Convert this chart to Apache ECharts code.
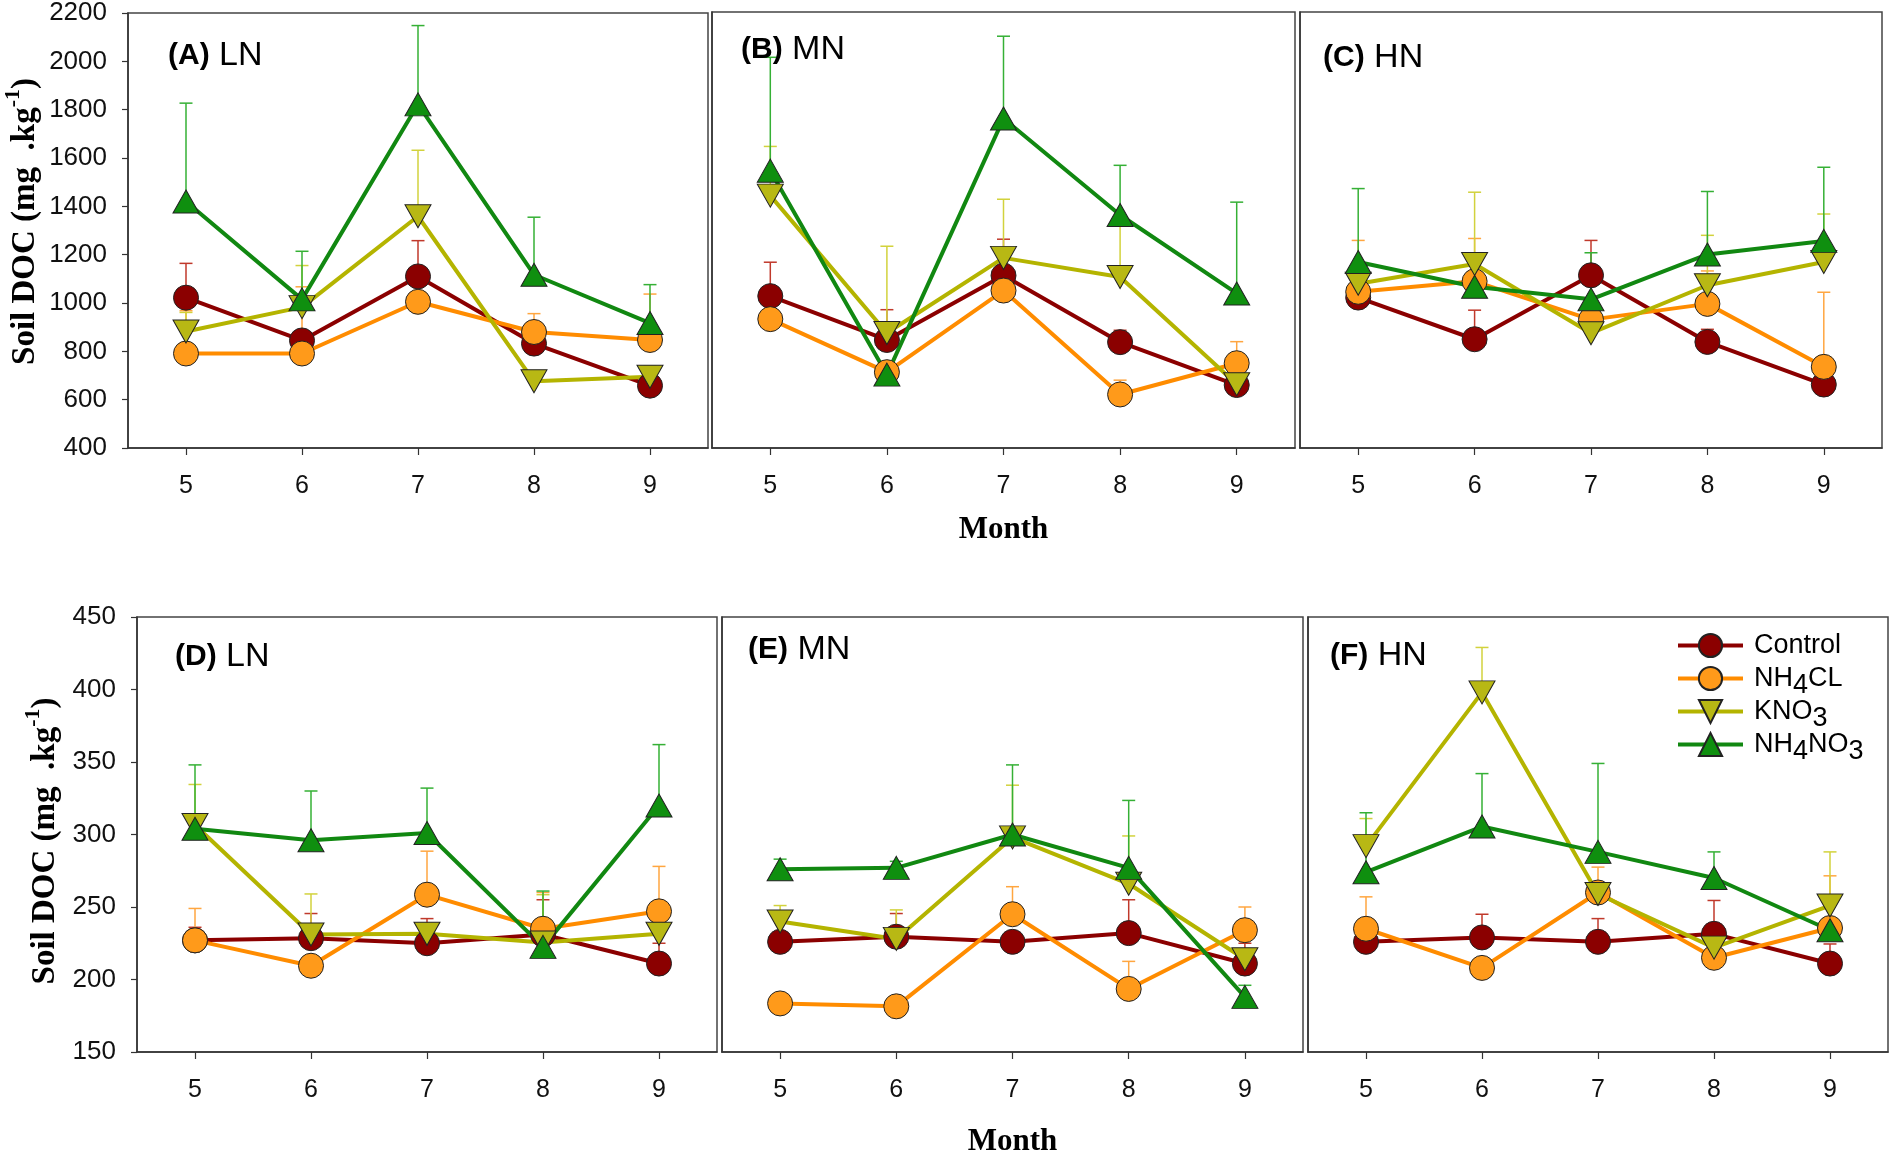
<!DOCTYPE html>
<html>
<head>
<meta charset="utf-8">
<script src="https://cdn.jsdelivr.net/npm/echarts@6/dist/echarts.min.js"></script>
<style>html,body{margin:0;padding:0;background:#fff;}#c{width:1895px;height:1161px;}</style>
</head>
<body>
<div id="c"></div>
<script>
// ---------------- DATA ----------------
const months = ['5', '6', '7', '8', '9'];
const treatments = ['Control', 'NH4CL', 'KNO3', 'NH4NO3'];
const topYTicks = [400, 600, 800, 1000, 1200, 1400, 1600, 1800, 2000, 2200];
const bottomYTicks = [150, 200, 250, 300, 350, 400, 450];
const panelLabels = ['(A)', '(B)', '(C)', '(D)', '(E)', '(F)'];
const panelLevels = ['LN', 'MN', 'HN', 'LN', 'MN', 'HN'];

// (A) LN - top row
const A_Control = [1022, 845, 1110, 832, 658];
const A_NH4CL = [791, 791, 1005, 880, 847];
const A_KNO3 = [882, 983, 1359, 676, 695];
const A_NH4NO3 = [1420, 1015, 1822, 1117, 917];
const A_Control_se = [142, 40, 148, 45, 25];
const A_NH4CL_se = [177, 276, 88, 76, 190];
const A_KNO3_se = [79, 172, 273, 41, 44];
const A_NH4NO3_se = [407, 199, 326, 238, 159];

// (B) MN - top row
const B_Control = [1027, 846, 1112, 837, 660];
const B_NH4CL = [932, 713, 1050, 621, 750];
const B_KNO3 = [1442, 875, 1185, 1106, 663];
const B_NH4NO3 = [1545, 703, 1760, 1362, 1038];
const B_Control_se = [140, 125, 150, 49, 20];
const B_NH4CL_se = [79, 20, 30, 59, 89];
const B_KNO3_se = [203, 358, 242, 221, 15];
const B_NH4NO3_se = [468, 20, 340, 205, 377];

// (C) HN - top row
const C_Control = [1021, 849, 1113, 838, 662];
const C_NH4CL = [1045, 1088, 930, 995, 735];
const C_KNO3 = [1078, 1160, 874, 1072, 1168];
const C_NH4NO3 = [1168, 1066, 1014, 1199, 1255];
const C_Control_se = [20, 120, 144, 52, 15];
const C_NH4CL_se = [212, 177, 30, 136, 308];
const C_KNO3_se = [40, 296, 20, 206, 198];
const C_NH4NO3_se = [303, 30, 192, 260, 304];

// (D) LN - bottom row
const D_Control = [227, 228.5, 225, 231, 211];
const D_NH4CL = [227, 209.5, 258.5, 235, 247];
const D_KNO3 = [306.5, 231, 231.5, 225.5, 231.5];
const D_NH4NO3 = [304, 296, 301, 222.5, 320];
const D_Control_se = [9, 17, 17, 24, 14];
const D_NH4CL_se = [22, 6, 30, 25, 31];
const D_KNO3_se = [28, 28, 6, 33, 5];
const D_NH4NO3_se = [44, 34, 31, 38.5, 42];

// (E) MN - bottom row
const E_Control = [226, 229.5, 226, 232, 211];
const E_NH4CL = [183.5, 181.5, 245, 193.5, 234];
const E_KNO3 = [240, 228, 298, 266, 214];
const E_NH4NO3 = [276, 277, 300, 277, 188];
const E_Control_se = [5, 16, 5, 23, 14];
const E_NH4CL_se = [3, 3, 19, 19, 16];
const E_KNO3_se = [11, 20, 36, 33, 5];
const E_NH4NO3_se = [7, 4.5, 48, 46.5, 8];

// (F) HN - bottom row
const F_Control = [226, 229, 226, 231.5, 211];
const F_NH4CL = [235, 208, 260, 215, 235.5];
const F_KNO3 = [292, 398, 259, 222, 251];
const F_NH4NO3 = [274, 305.5, 288, 270, 234];
const F_Control_se = [5, 16, 16, 23, 13.5];
const F_NH4CL_se = [22, 5, 17.5, 5, 36];
const F_KNO3_se = [19, 31, 5, 5, 37];
const F_NH4NO3_se = [41, 36.5, 61, 18, 5];

// ---------------- BUILD ----------------
const panelMeans = [
  [A_Control, A_NH4CL, A_KNO3, A_NH4NO3],
  [B_Control, B_NH4CL, B_KNO3, B_NH4NO3],
  [C_Control, C_NH4CL, C_KNO3, C_NH4NO3],
  [D_Control, D_NH4CL, D_KNO3, D_NH4NO3],
  [E_Control, E_NH4CL, E_KNO3, E_NH4NO3],
  [F_Control, F_NH4CL, F_KNO3, F_NH4NO3]
];
const panelSE = [
  [A_Control_se, A_NH4CL_se, A_KNO3_se, A_NH4NO3_se],
  [B_Control_se, B_NH4CL_se, B_KNO3_se, B_NH4NO3_se],
  [C_Control_se, C_NH4CL_se, C_KNO3_se, C_NH4NO3_se],
  [D_Control_se, D_NH4CL_se, D_KNO3_se, D_NH4NO3_se],
  [E_Control_se, E_NH4CL_se, E_KNO3_se, E_NH4NO3_se],
  [F_Control_se, F_NH4CL_se, F_KNO3_se, F_NH4NO3_se]
];

const lineColors = ['#8B0000', '#FF8C00', '#B4B400', '#118811'];
const fillColors = ['#8B0000', '#FF9A1A', '#B8B814', '#0F8F0F'];
const errColors = ['#C0392B', '#FFA640', '#D2D23C', '#35B035'];
const symbols = ['circle', 'circle', 'triangle', 'triangle'];
const symRot = [0, 0, 180, 0];
const symSize = [25, 25, [26, 23], [26, 23]];

const grids = [
  {left: 128, top: 12, width: 580, height: 436},
  {left: 712, top: 12, width: 583, height: 436},
  {left: 1300, top: 12, width: 582, height: 436},
  {left: 137, top: 617, width: 580, height: 435},
  {left: 722, top: 617, width: 581, height: 435},
  {left: 1308, top: 617, width: 580, height: 435}
];
const labelPos = [
  {left: 168, top: 39}, {left: 741, top: 33}, {left: 1323, top: 41},
  {left: 175, top: 640}, {left: 748, top: 633}, {left: 1330, top: 639}
];

const SANS = 'Liberation Sans, Arial, sans-serif';
const SERIF = 'Liberation Serif, Times New Roman, serif';

const xAxes = [], yAxes = [], series = [], titles = [];
for (let p = 0; p < 6; p++) {
  const top = p < 3;
  const ticks = top ? topYTicks : bottomYTicks;
  const hasY = (p === 0 || p === 3);
  const hasMonth = (p === 1 || p === 4);
  xAxes.push({
    gridIndex: p, type: 'category', data: months, boundaryGap: true,
    axisLine: {show: true, lineStyle: {color: '#333', width: 1.5}},
    axisTick: {show: true, alignWithLabel: true, length: 7, lineStyle: {color: '#333', width: 1.2}},
    axisLabel: {show: true, fontFamily: SANS, fontSize: 25, color: '#111', margin: 26},
    splitLine: {show: false},
    name: hasMonth ? 'Month' : '',
    nameLocation: 'middle', nameGap: top ? 66 : 74,
    nameTextStyle: {fontFamily: SERIF, fontWeight: 'bold', fontSize: 31, color: '#000'}
  });
  yAxes.push({
    gridIndex: p, type: 'value', min: ticks[0], max: ticks[ticks.length - 1], interval: ticks[1] - ticks[0],
    axisLine: {show: true, lineStyle: {color: '#333', width: 1.5}},
    axisTick: {show: hasY, length: 6, lineStyle: {color: '#333', width: 1.2}},
    axisLabel: {show: hasY, fontFamily: SANS, fontSize: 26, color: '#111', margin: 21,
      formatter: function (v) { return String(v); }},
    splitLine: {show: false},
    name: hasY ? '{a|Soil DOC (mg  .kg}{s|-1}{a|)}' : '',
    nameLocation: 'middle', nameRotate: 90, nameGap: top ? 89 : 78,
    nameTextStyle: {
      padding: top ? [0, 0, 0, 18] : [0, 13, 0, 0],
      rich: {
        a: {fontFamily: SERIF, fontWeight: 'bold', fontSize: 33, color: '#000', lineHeight: 34, padding: [6, 0, 0, 0]},
        s: {fontFamily: SERIF, fontWeight: 'bold', fontSize: 22, color: '#000', lineHeight: 22, padding: [0, 0, 18, 0]}
      }
    }
  });
  titles.push({
    text: '{b|' + panelLabels[p] + '}{r| ' + panelLevels[p] + '}',
    left: labelPos[p].left, top: labelPos[p].top, padding: 0,
    textStyle: {
      rich: {
        b: {fontFamily: SANS, fontWeight: 'bold', fontSize: 30, color: '#000'},
        r: {fontFamily: SANS, fontWeight: 'normal', fontSize: 34, color: '#000'}
      }
    }
  });
  for (let t = 0; t < 4; t++) {
    const mean = panelMeans[p][t], se = panelSE[p][t];
    series.push({
      name: 'err_' + p + '_' + t, type: 'custom', xAxisIndex: p, yAxisIndex: p, z: 1,
      itemStyle: {color: errColors[t]},
      data: mean.map((v, i) => [i, v, se[i]]),
      encode: {x: 0, y: 1},
      renderItem: function (params, api) {
        const i = api.value(0), m = api.value(1), s = api.value(2);
        const p0 = api.coord([i, m]);
        const p1 = api.coord([i, m + s]);
        const col = api.visual('color');
        const hw = 6.5;
        return {
          type: 'group', children: [
            {type: 'line', shape: {x1: p0[0], y1: p0[1], x2: p1[0], y2: p1[1]}, style: {stroke: col, lineWidth: 1.5}},
            {type: 'line', shape: {x1: p1[0] - hw, y1: p1[1], x2: p1[0] + hw, y2: p1[1]}, style: {stroke: col, lineWidth: 1.5}}
          ]
        };
      },
      silent: true
    });
  }
  for (let t = 0; t < 4; t++) {
    series.push({
      name: treatments[t], type: 'line', xAxisIndex: p, yAxisIndex: p, z: 2,
      data: panelMeans[p][t],
      symbol: symbols[t], symbolRotate: symRot[t], symbolSize: symSize[t],
      lineStyle: {color: lineColors[t], width: 4},
      itemStyle: {color: fillColors[t], borderColor: '#222', borderWidth: 1},
      showSymbol: true, animation: false
    });
  }
}

const chart = echarts.init(document.getElementById('c'));
chart.setOption({
  animation: false,
  backgroundColor: '#fff',
  grid: grids.map(g => Object.assign({show: true, borderColor: '#444', borderWidth: 1.5, backgroundColor: 'transparent'}, g)),
  xAxis: xAxes,
  yAxis: yAxes,
  title: titles,
  legend: {
    data: treatments, orient: 'vertical', left: 1671, top: 620,
    itemWidth: 65, itemHeight: 29, itemGap: -8,
    lineStyle: {width: 4},
    formatter: function (name) {
      return ({
        'Control': '{n|Control}',
        'NH4CL': '{n|NH}{s|4}{n|CL}',
        'KNO3': '{n|KNO}{s|3}',
        'NH4NO3': '{n|NH}{s|4}{n|NO}{s|3}'
      })[name];
    },
    textStyle: {
      padding: [0, 0, 0, 6],
      rich: {
        n: {fontFamily: SANS, fontSize: 27, color: '#000', lineHeight: 26, padding: [7, 0, 7, 0]},
        s: {fontFamily: SANS, fontSize: 27, color: '#000', lineHeight: 26, padding: [14, 0, 0, 0]}
      }
    }
  },
  series: series
});
</script>
</body>
</html>
